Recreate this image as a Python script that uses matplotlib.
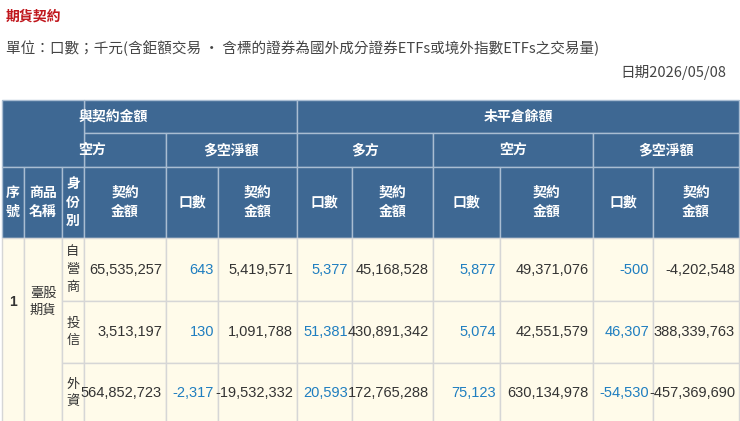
import matplotlib
matplotlib.use("Agg")
import matplotlib.pyplot as plt
from matplotlib.patches import Rectangle

plt.rcParams['font.family'] = ['Noto Sans CJK TC', 'DejaVu Sans']
NUMF = ['Liberation Sans', 'DejaVu Sans']

title = "期貨契約"
unit_text = "單位：口數；千元(含鉅額交易 · 含標的證券為國外成分證券ETFs或境外指數ETFs之交易量)"
date_text = "日期2026/05/08"
identities = ["自\n營\n商", "投\n信", "外\n資"]
product = "臺股\n期貨"
seq = "1"
short_amt = ["65,535,257", "3,513,197", "564,852,723"]
net_lots = ["643", "130", "-2,317"]
net_amt = ["5,419,571", "1,091,788", "-19,532,332"]
oi_long_lots = ["5,377", "51,381", "20,593"]
oi_long_amt = ["45,168,528", "430,891,342", "172,765,288"]
oi_short_lots = ["5,877", "5,074", "75,123"]
oi_short_amt = ["49,371,076", "42,551,579", "630,134,978"]
oi_net_lots = ["-500", "46,307", "-54,530"]
oi_net_amt = ["-4,202,548", "388,339,763", "-457,369,690"]

W, H = 740, 421
fig = plt.figure(figsize=(W/100, H/100), dpi=100)
ax = fig.add_axes([0, 0, 1, 1])
ax.set_xlim(0, W); ax.set_ylim(H, 0); ax.axis('off')

HB = '#3e6893'; HL = '#a9bdd2'; BODY = '#fffbea'; BL = '#d6d6d6'
TXT = '#333333'; BLUE = '#1f7ec0'

xs = [2, 24, 62, 84, 166, 218, 297, 352, 433, 500, 593, 653, 739]
ys = [100, 133, 167, 238, 301, 363, 430]

def rect(x0, y0, x1, y1, fc, ec):
    p = Rectangle((x0, y0), x1-x0, y1-y0, fc=fc, ec=ec, lw=1)
    ax.add_patch(p)
    return p

def htext(x, y, t, ha='center', clip=None):
    tt = ax.text(x, y, t, ha=ha, va='center', color='white', fontsize=10,
                 fontweight='bold', linespacing=1.45)
    if clip is not None:
        tt.set_clip_path(clip)
    return tt

ax.text(6, 17, title, color='#c0161c', fontsize=10, fontweight='bold', va='center')
ax.text(6, 48, unit_text, color='#444444', fontsize=10.5, va='center')
ax.text(726, 73, date_text, color='#444444', fontsize=10.5, va='center', ha='right')

# header
p = rect(xs[3], ys[0], xs[6], ys[1], HB, HL)
htext(xs[3]-6, (ys[0]+ys[1])/2, "與契約金額", ha='left', clip=p)
rect(xs[6], ys[0], xs[12], ys[1], HB, HL)
htext((xs[6]+xs[12])/2, (ys[0]+ys[1])/2, "未平倉餘額")
p = rect(xs[3], ys[1], xs[4], ys[2], HB, HL)
htext(xs[3]-6, (ys[1]+ys[2])/2, "空方", ha='left', clip=p)
rect(xs[0], ys[0], xs[3], ys[2], HB, HL)
for (a, b, t) in [(4, 6, "多空淨額"), (6, 8, "多方"), (8, 10, "空方"), (10, 12, "多空淨額")]:
    rect(xs[a], ys[1], xs[b], ys[2], HB, HL)
    htext((xs[a]+xs[b])/2, (ys[1]+ys[2])/2, t)
row3 = ["序\n號", "商品\n名稱", "身\n份\n別", "契約\n金額", "口數", "契約\n金額", "口數", "契約\n金額",
        "口數", "契約\n金額", "口數", "契約\n金額"]
for i, t in enumerate(row3):
    rect(xs[i], ys[2], xs[i+1], ys[3], HB, HL)
    htext((xs[i]+xs[i+1])/2, (ys[2]+ys[3])/2, t)

# body
rect(xs[0], ys[3], xs[1], ys[6], BODY, BL)
ax.text((xs[0]+xs[1])/2, 302, seq, ha='center', va='center', color=TXT, fontsize=10,
        fontweight='bold', family=NUMF)
rect(xs[1], ys[3], xs[2], ys[6], BODY, BL)
ax.text((xs[1]+xs[2])/2, 302, product, ha='center', va='center', color=TXT, fontsize=9.5,
        linespacing=1.45)
cols = [short_amt, net_lots, net_amt, oi_long_lots, oi_long_amt, oi_short_lots, oi_short_amt, oi_net_lots, oi_net_amt]
blue_cols = {1, 3, 5, 7}
for r in range(3):
    y0, y1 = ys[3+r], ys[4+r]
    rect(xs[2], y0, xs[3], y1, BODY, BL)
    yc = (y0+y1)/2 if r < 2 else 393
    ax.text((xs[2]+xs[3])/2, yc, identities[r], ha='center', va='center', color=TXT,
            fontsize=9.5, linespacing=1.45)
    for c, vals in enumerate(cols):
        rect(xs[3+c], y0, xs[4+c], y1, BODY, BL)
        ax.text(xs[4+c]-4, yc, vals[r], ha='right', va='center', fontsize=10.5, family=NUMF,
                color=BLUE if c in blue_cols else TXT)

fig.savefig("out.png", dpi=100, facecolor='white')
